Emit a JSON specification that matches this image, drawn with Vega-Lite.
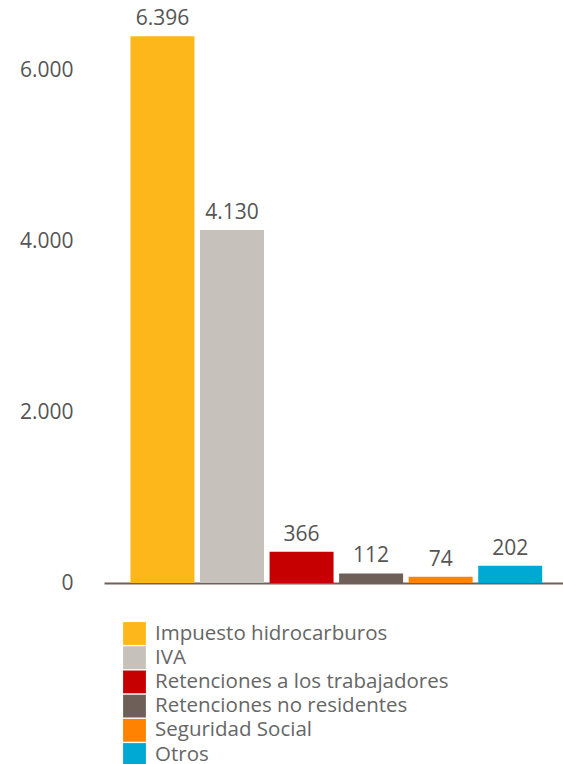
{
  "$schema": "https://vega.github.io/schema/vega-lite/v6.json",
  "width": 459,
  "height": 547,
  "autosize": {"type": "none"},
  "padding": {"left": 104, "top": 36, "right": 0, "bottom": 181},
  "background": "white",
  "config": {
    "font": "Open Sans",
    "view": {"stroke": null},
    "locale": {"number": {"decimal": ",", "thousands": ".", "grouping": [3], "currency": ["", " €"]}},
    "axisX": {"domainColor": "#6E6058", "domainWidth": 2}
  },
  "data": {
    "values": [
      {"concepto": "Impuesto hidrocarburos", "valor": 6396},
      {"concepto": "IVA", "valor": 4130},
      {"concepto": "Retenciones a los trabajadores", "valor": 366},
      {"concepto": "Retenciones no residentes", "valor": 112},
      {"concepto": "Seguridad Social", "valor": 74},
      {"concepto": "Otros", "valor": 202}
    ]
  },
  "encoding": {
    "x": {
      "field": "concepto",
      "type": "nominal",
      "sort": null,
      "scale": {"paddingInner": 0.08, "paddingOuter": 0.34, "align": 0.56},
      "axis": {"title": null, "labels": false, "ticks": false, "domainColor": "#6E6058", "domainWidth": 2}
    },
    "y": {
      "field": "valor",
      "type": "quantitative",
      "scale": {"domain": [0, 6400], "nice": false},
      "axis": {
        "title": null,
        "values": [0, 2000, 4000, 6000],
        "format": ",d",
        "domain": false,
        "ticks": false,
        "grid": false,
        "labelPadding": 31,
        "labelFontSize": 21,
        "labelColor": "#555555",
        "labelFont": "Open Sans"
      }
    }
  },
  "layer": [
    {
      "mark": {"type": "bar"},
      "encoding": {
        "color": {
          "field": "concepto",
          "type": "nominal",
          "sort": null,
          "scale": {
            "domain": ["Impuesto hidrocarburos", "IVA", "Retenciones a los trabajadores", "Retenciones no residentes", "Seguridad Social", "Otros"],
            "range": ["#FDB71A", "#C6C2BB", "#C60000", "#6E6058", "#FF8200", "#00A9D4"]
          },
          "legend": {
            "title": null,
            "orient": "none",
            "legendX": 19,
            "legendY": 586,
            "symbolType": "square",
            "symbolSize": 520,
            "symbolStrokeWidth": 0,
            "symbolOpacity": 1,
            "rowPadding": 1.2,
            "labelFontSize": 20.5,
            "labelColor": "#666666",
            "labelOffset": 9,
            "labelFont": "Open Sans",
            "labelLimit": 400
          }
        }
      }
    },
    {
      "mark": {"type": "text", "baseline": "bottom", "dy": -7, "fontSize": 21, "color": "#555555"},
      "encoding": {
        "text": {"field": "valor", "type": "quantitative", "format": ",d"}
      }
    }
  ]
}
